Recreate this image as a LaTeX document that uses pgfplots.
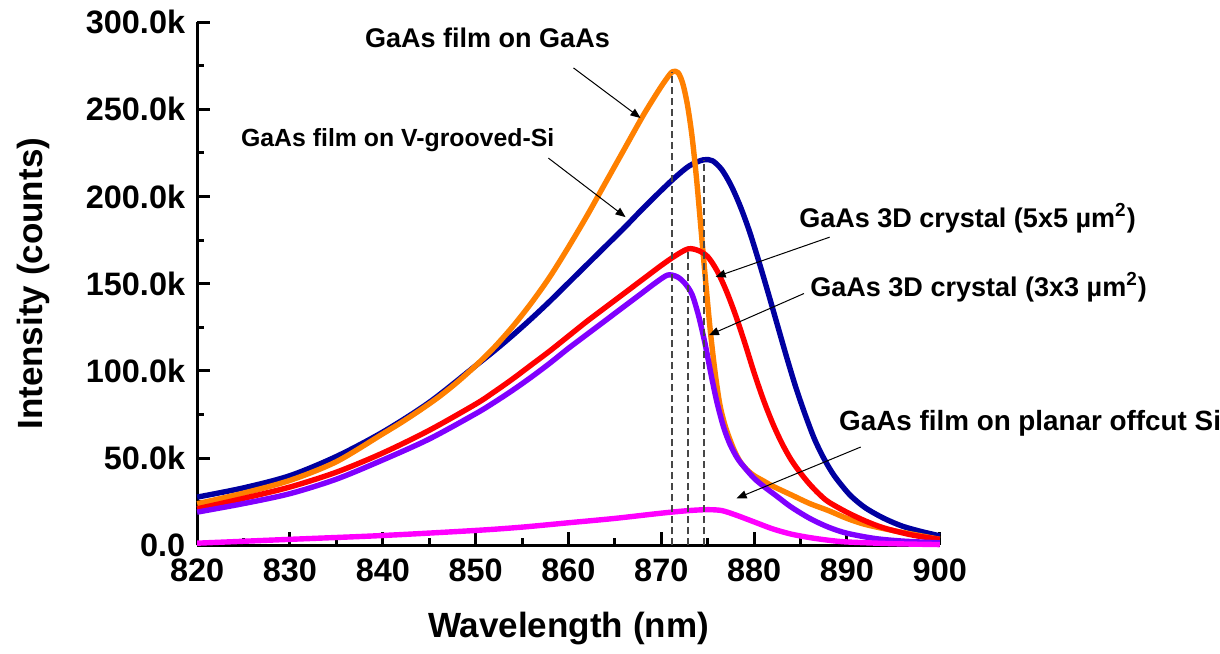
\documentclass[border=0pt]{standalone}
\usepackage{pgfplots}
\pgfplotsset{compat=1.18}
\usepackage{fontspec}
\setmainfont{Liberation Sans}
\usetikzlibrary{arrows.meta}
\definecolor{cblue}{RGB}{0,0,160}
\definecolor{corange}{RGB}{255,128,0}
\definecolor{cred}{RGB}{255,0,0}
\definecolor{cpurple}{RGB}{128,0,255}
\definecolor{cmag}{RGB}{255,0,255}
\definecolor{cdash}{RGB}{70,70,70}
\newcommand{\annfont}{\fontsize{13.5}{16}\selectfont\bfseries}
\begin{document}
\begin{tikzpicture}
\begin{axis}[
  at={(0,0)}, anchor=south west,
  scale only axis, width=371pt, height=261.5pt,
  xmin=820, xmax=900, ymin=0, ymax=300,
  clip=false,
  axis x line*=bottom, axis y line*=left,
  axis line style={-, line width=1.5pt},
  xtick={820,830,...,900}, ytick={0,50,...,300},
  xticklabels={820,830,840,850,860,870,880,890,900},
  yticklabels={0.0,50.0k,100.0k,150.0k,200.0k,250.0k,300.0k},
  minor x tick num=1, minor y tick num=1,
  tick align=inside,
  major tick length=6.5pt, minor tick length=3.5pt,
  every tick/.style={black, line width=1.5pt},
  tick label style={font=\fontsize{16.2}{18}\selectfont\bfseries},
  xticklabel style={yshift=-3pt},
  yticklabel style={xshift=-2.5pt},
  xlabel={Wavelength (nm)}, ylabel={Intensity (counts)},
  label style={font=\fontsize{17.5}{21}\selectfont\bfseries},
  xlabel style={at={([yshift=-41.5pt]axis description cs:0.5,0)}, anchor=center},
  ylabel style={at={([xshift=-82pt]axis description cs:0,0.5)}, anchor=center},
  every axis plot/.append style={line width=2.7pt, line join=round},
]
% GaAs film on V-grooved-Si
\addplot[cblue, smooth] coordinates {
(820,27.7) (825,33) (830,40) (835,51) (840,65) (845,82) (850,103) (852,111.5)
(854,120.5) (856,130) (858,140) (860,150.5) (862,161) (864,171.5) (866,182) (868,193)
(870,203.5) (871.5,211) (873,217.5) (874.5,221) (875.5,220.5) (876.5,215.5)
(877.5,206.5) (878.5,194.5) (879.5,180) (880.5,163) (881.5,145) (882.5,126.5)
(883.5,108) (884.5,90.5) (885.5,75) (886.5,61) (887.5,50) (888.5,41) (889.5,34)
(890.5,28) (892,21.5) (894,15.5) (896,11) (898,8) (900,5.5)
};
% GaAs film on GaAs
\addplot[corange, smooth] coordinates {
(820,23.9) (825,30) (830,37.3) (835,48) (840,64) (842,70.5) (844,77.5) (846,85)
(848,93.5) (850,103) (852,113.5) (854,125.5) (856,139) (858,154) (860,171) (862,189)
(864,208) (866,227) (868,246) (869.5,259) (870.5,267) (871.2,271.5) (871.8,271)
(872.3,265) (872.8,253) (873.3,235) (873.8,210) (874.3,180) (874.8,150) (875.3,122)
(875.8,99) (876.3,81) (876.8,70) (877.3,62) (877.9,54) (878.5,48) (879.2,43.5)
(880,40) (881,37) (882,34) (884,29) (886,24) (888,20) (890,15.5) (892,12)
(895,8.5) (897,6.5) (900,3.5)
};
% GaAs 3D crystal 5x5
\addplot[cred, smooth] coordinates {
(820,21) (825,27) (830,33.5) (835,42) (840,53) (845,66) (850,81) (852,88)
(854,95.5) (856,103.5) (858,111.5) (860,120) (862,128.5) (864,136.5) (866,144.5)
(868,152.5) (870,160.5) (871.5,166) (872.9,170) (874,169) (875,165.5) (876,157.5)
(877,146) (878,132) (879,116) (880,99) (881,83.5) (882,70) (883,58.5) (884,49)
(885,41.5) (886,35) (887,29.5) (888,25) (890,19) (892,14) (894,10) (897,6) (900,3.5)
};
% GaAs 3D crystal 3x3
\addplot[cpurple, smooth] coordinates {
(820,19.1) (825,24) (830,29.7) (835,38) (840,49) (845,61) (850,75.5) (852,82)
(854,89) (856,96.5) (858,104.5) (860,113) (862,121) (864,129) (866,137) (868,145)
(869.5,151) (870.7,155) (871.7,154) (872.5,150.5) (873.3,144) (874,132) (874.7,116)
(875.4,97) (876,82) (876.7,68) (877.4,58) (878.2,50) (879,44.5) (880,38.5)
(881,34) (882.5,28) (884,22) (886,15.5) (888,10.5) (890,7) (893,4) (896,2.5) (900,1.5)
};
% GaAs film on planar offcut Si
\addplot[cmag, smooth] coordinates {
(820,1.3) (830,3.5) (840,5.7) (850,8.6) (855,10.5) (860,13) (865,15.5) (870,18.5)
(873,20) (875,20.5) (876.5,20) (878,17.5) (880,13.5) (882,9.5) (884,6.5) (886,4.5)
(888,3) (890,2) (895,1) (900,0.5)
};
% peak markers
\addplot[cdash, line width=1pt, dash pattern=on 3.5pt off 2pt] coordinates {(871.2,0) (871.2,271.5)};
\addplot[cdash, line width=1pt, dash pattern=on 3.5pt off 2pt] coordinates {(872.9,0) (872.9,170)};
\addplot[cdash, line width=1pt, dash pattern=on 3.5pt off 2pt] coordinates {(874.6,0) (874.6,221)};
% annotations
\node[font=\annfont] at (851.27,290.9) {GaAs film on GaAs};
\draw[-{Triangle[length=5pt,width=4pt]}, line width=0.5pt] (860.54,273.7) -- (867.76,245.0);
\node[font=\fontsize{12.4}{15}\selectfont\bfseries] at (841.6,232.4) {GaAs film on V-grooved-Si};
\draw[-{Triangle[length=5pt,width=4pt]}, line width=0.5pt] (857.84,222.0) -- (866.15,188.2);
\node[font=\annfont, anchor=west] at (884.1,187.6) {GaAs 3D crystal (5x5 µm\textsuperscript{2})};
\draw[-{Triangle[length=5pt,width=4pt]}, line width=0.5pt] (888.14,176.7) -- (875.85,153.9);
\node[font=\annfont, anchor=west] at (885.3,148.0) {GaAs 3D crystal (3x3 µm\textsuperscript{2})};
\draw[-{Triangle[length=5pt,width=4pt]}, line width=0.5pt] (885.37,144.4) -- (875.13,120.5);
\node[font=\fontsize{13.9}{16}\selectfont\bfseries, anchor=west] at (888.4,70.0) {GaAs film on planar offcut Si};
\draw[-{Triangle[length=5pt,width=4pt]}, line width=0.5pt] (891.48,56.4) -- (878.11,27.0);
\end{axis}
\pgfresetboundingbox
\path[use as bounding box] (-98.5pt,-54pt) rectangle (511pt,272.5pt);
\end{tikzpicture}
\end{document}
